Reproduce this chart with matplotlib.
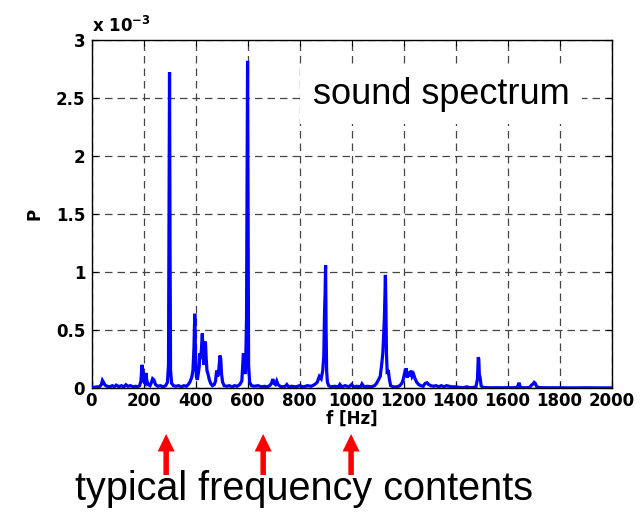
import matplotlib
matplotlib.use("Agg")
import matplotlib.pyplot as plt
from matplotlib.patches import FancyArrow
from matplotlib.font_manager import FontProperties

# Sound power spectrum (P in units of 1e-3) versus frequency in Hz
freq_hz = [
    0, 10, 20, 30, 38, 42, 46, 52, 60, 70,
    80, 88, 95, 105, 115, 125, 132, 140, 150, 160,
    170, 178, 185, 190, 194, 198, 202, 206, 209, 213,
    218, 225, 231, 235, 240, 246, 255, 265, 275, 285,
    292, 296, 298, 300, 302, 304, 308, 315, 325, 335,
    345, 355, 365, 372, 378, 385, 390, 394, 397, 400,
    403, 407, 410, 414, 417, 420, 423, 426, 429, 432,
    435, 438, 441, 444, 448, 452, 458, 465, 472, 477,
    481, 485, 488, 491, 494, 497, 500, 504, 510, 520,
    530, 540, 550, 560, 570, 578, 584, 588, 592, 596,
    598, 600, 602, 604, 608, 615, 625, 640, 655, 665,
    675, 685, 692, 697, 702, 707, 712, 717, 725, 735,
    745, 751, 758, 770, 785, 800, 815, 830, 845, 858,
    868, 876, 883, 889, 893, 896, 898, 900, 902, 904,
    907, 912, 920, 935, 950, 955, 962, 975, 990, 1000,
    1008, 1020, 1035, 1040, 1048, 1060, 1075, 1088, 1096, 1103,
    1110, 1116, 1120, 1123, 1126, 1128, 1130, 1132, 1134, 1137,
    1141, 1145, 1150, 1160, 1175, 1185, 1193, 1198, 1203, 1207,
    1210, 1214, 1218, 1222, 1226, 1229, 1233, 1238, 1244, 1250,
    1258, 1266, 1275, 1283, 1290, 1296, 1305, 1315, 1325, 1335,
    1345, 1355, 1365, 1375, 1385, 1400, 1415, 1430, 1443, 1455,
    1468, 1478, 1484, 1487, 1489, 1491, 1494, 1498, 1505, 1520,
    1540, 1560, 1580, 1600, 1620, 1635, 1640, 1644, 1648, 1655,
    1670, 1685, 1690, 1694, 1698, 1702, 1706, 1712, 1725, 1750,
    1800, 1850, 1900, 1950, 2000,
]
power_e3 = [
    .010, .005, .010, .008, .030, .065, .050, .025, .015, .010,
    .020, .010, .025, .012, .020, .010, .028, .015, .020, .010,
    .015, .010, .020, .060, .200, .120, .050, .040, .130, .060,
    .030, .020, .050, .080, .070, .030, .015, .020, .010, .020,
    .050, .200, 1.40, 2.72, 1.20, .150, .040, .020, .015, .020,
    .010, .020, .015, .030, .050, .090, .150, .350, .640, .300,
    .100, .070, .120, .180, .300, .250, .350, .470, .300, .200,
    .350, .400, .250, .150, .120, .080, .040, .020, .030, .060,
    .150, .100, .120, .200, .280, .250, .120, .050, .020, .015,
    .020, .010, .020, .015, .030, .060, .300, .200, .120, .600,
    1.80, 2.82, 1.50, .200, .050, .020, .015, .020, .010, .015,
    .010, .020, .040, .077, .040, .030, .060, .030, .015, .010,
    .015, .030, .010, .015, .010, .020, .010, .020, .015, .030,
    .050, .100, .080, .150, .270, .660, .800, 1.06, .500, .150,
    .050, .020, .010, .015, .010, .030, .010, .020, .010, .030,
    .010, .015, .010, .035, .010, .015, .010, .020, .040, .070,
    .100, .210, .300, .440, .600, .800, .975, .700, .300, .120,
    .155, .080, .020, .010, .010, .020, .040, .070, .120, .100,
    .170, .090, .140, .100, .130, .150, .100, .120, .080, .050,
    .030, .020, .015, .040, .045, .030, .020, .015, .020, .010,
    .020, .010, .020, .015, .010, .010, .005, .003, .010, .003,
    .005, .010, .080, .265, .250, .120, .090, .020, .005, .003,
    .002, .003, .002, .003, .002, .005, .020, .045, .010, .003,
    .002, .005, .020, .030, .035, .048, .040, .010, .003, .002,
    .002, .001, .002, .001, .001,
]

x_ticks = [0, 200, 400, 600, 800, 1000, 1200, 1400, 1600, 1800, 2000]
y_ticks = [0, 0.5, 1, 1.5, 2, 2.5, 3]
arrow_freqs = [287, 660, 998]

fig = plt.figure(figsize=(6.43, 5.13), dpi=100)
ax = fig.add_axes([91.5 / 643, 1 - 388 / 513, (611.7 - 91.5) / 643, (388 - 40) / 513])

ax.plot(freq_hz, power_e3, color="#0000ff", lw=2.3, solid_joinstyle="miter", zorder=3)

ax.set_xlim(0, 2000)
ax.set_ylim(0, 3)
ax.set_xticks(x_ticks)
ax.set_yticks(y_ticks)
ax.set_xticklabels([f"{v:g}" for v in x_ticks])
ax.set_yticklabels([f"{v:g}" for v in y_ticks])

tick_fp = FontProperties(family="DejaVu Sans", weight="bold", size=12)
for lab in ax.get_xticklabels() + ax.get_yticklabels():
    lab.set_fontproperties(tick_fp)

ax.tick_params(direction="in", length=4, width=0.8, top=True, right=True, color="black")
ax.tick_params(axis="x", pad=3)
ax.tick_params(axis="y", pad=4.5)

ax.grid(True, color="#454545", lw=0.9, linestyle=(0, (6, 4)), zorder=1)
ax.set_axisbelow(True)
for s in ax.spines.values():
    s.set_linewidth(1.0)
    s.set_color("black")

ax.set_xlabel("f [Hz]", family="DejaVu Sans", weight="bold", size=12, labelpad=0)
ax.set_ylabel("P", family="DejaVu Sans", weight="bold", size=12, labelpad=9)

ax.text(0.0, 1.012, r"x 10$^{\mathbf{-3}}$", transform=ax.transAxes,
        family="DejaVu Sans", weight="bold", size=12, ha="left", va="bottom")

ax.text(0.425, 0.817, "sound spectrum", transform=ax.transAxes,
        family="Liberation Sans", size=26, ha="left", va="baseline", zorder=2,
        bbox=dict(boxstyle="square,pad=0.35", facecolor="white", edgecolor="none"))

fig.text(75 / 643, 1 - 500 / 513, "typical frequency contents",
         family="Liberation Sans", size=28.5, ha="left", va="baseline")

# Red arrows pointing up at selected frequencies
fig.canvas.draw()
for f in arrow_freqs:
    xpix = ax.transData.transform((f, 0))[0]
    arr = FancyArrow(xpix / fig.dpi, 0.38, 0, 0.41, width=0.055, head_width=0.17,
                     head_length=0.175, length_includes_head=True,
                     color="#ff0000", lw=0, transform=fig.dpi_scale_trans)
    fig.add_artist(arr)

fig.savefig("out.png", dpi=100, facecolor="white")
